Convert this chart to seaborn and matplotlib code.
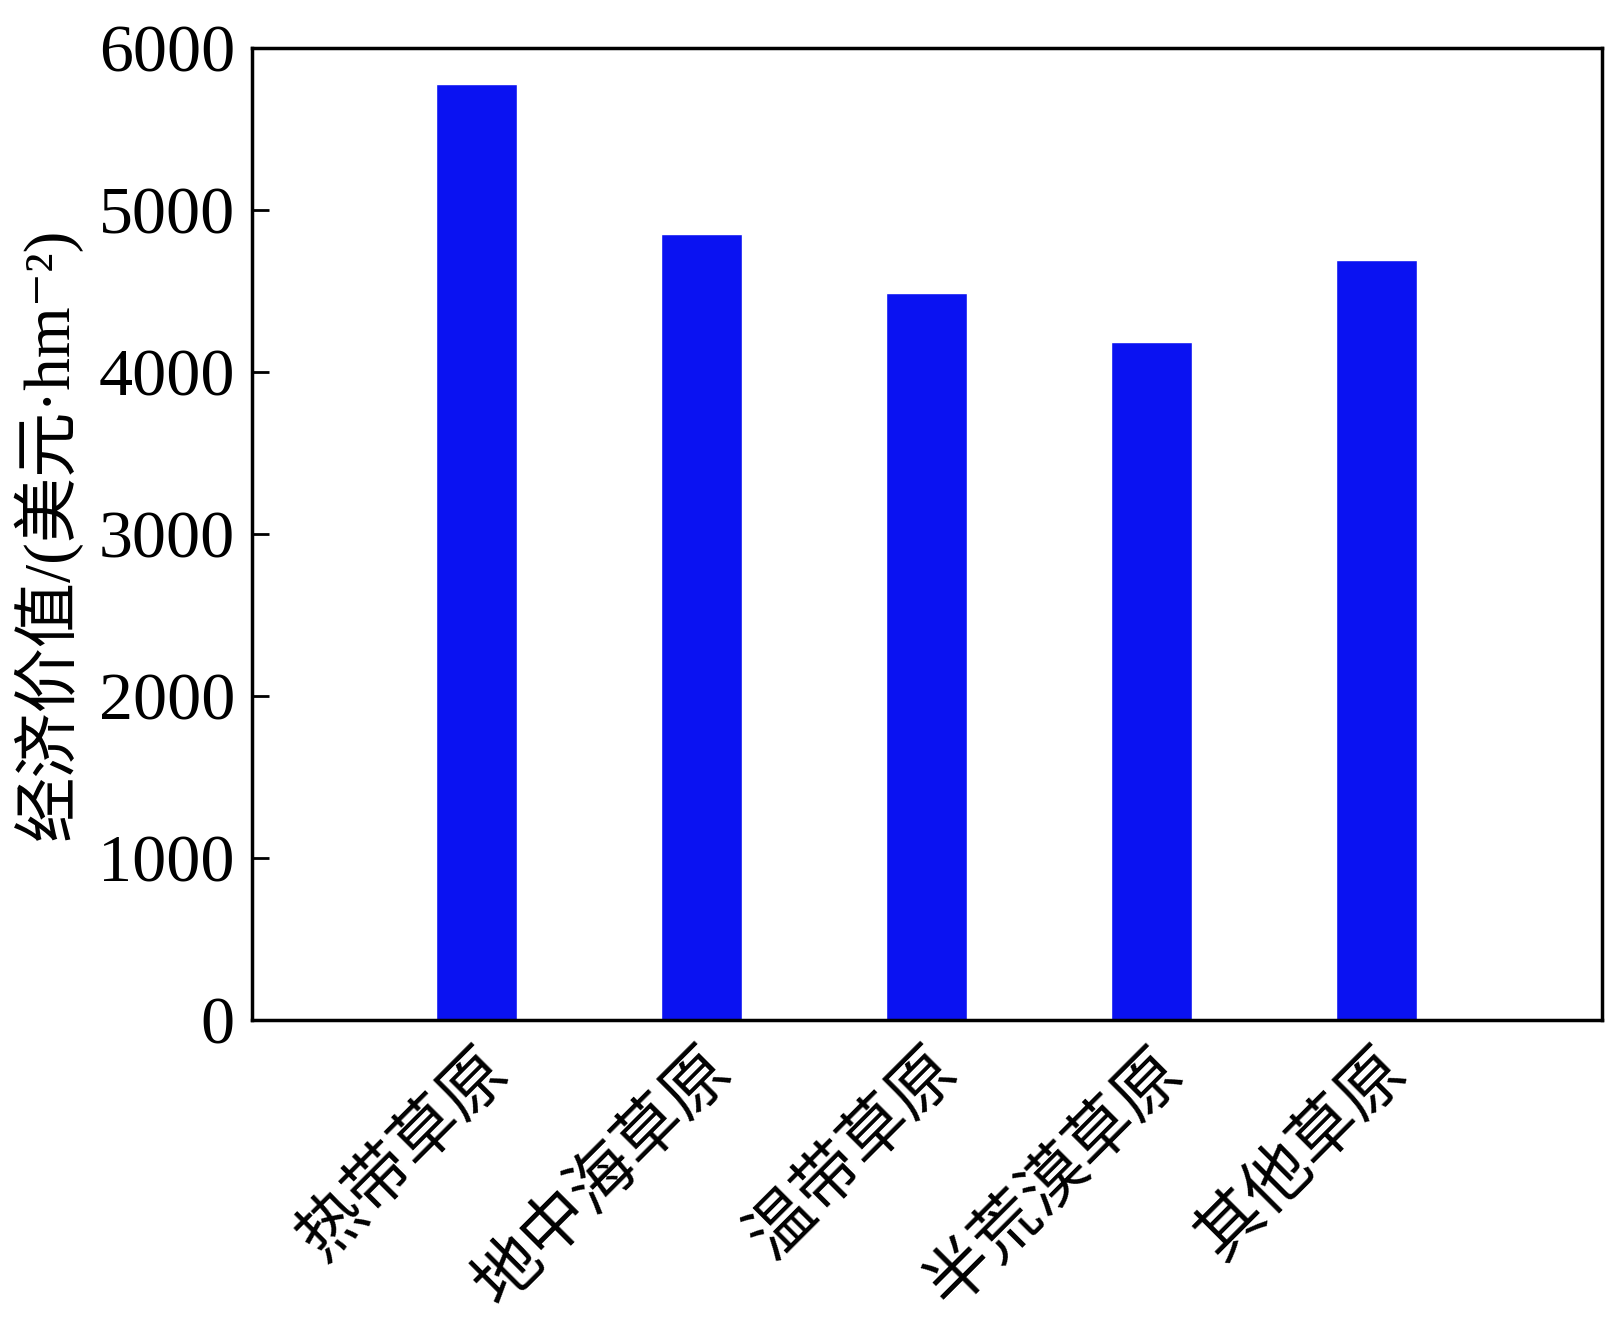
import matplotlib
matplotlib.use('Agg')
import matplotlib.pyplot as plt
import seaborn as sns
import pandas as pd

categories = ['热带草原', '地中海草原', '温带草原', '半荒漠草原', '其他草原']
values = [5780, 4850, 4490, 4185, 4690]
yticks = [0, 1000, 2000, 3000, 4000, 5000, 6000]

sns.set_style('white')
plt.rcParams['font.family'] = ['Liberation Serif', 'Noto Sans CJK SC', 'DejaVu Serif']
plt.rcParams['text.color'] = 'black'
plt.rcParams['xtick.color'] = 'black'
plt.rcParams['ytick.color'] = 'black'
plt.rcParams['axes.labelcolor'] = 'black'

df = pd.DataFrame({'type': categories, 'value': values})

fig = plt.figure(figsize=(16.13, 13.32), dpi=100)
ax = fig.add_axes([0.156, 0.234, 0.837, 0.730])
sns.barplot(data=df, x='type', y='value', order=categories, color='#0a12f2',
            saturation=1, width=0.36, ax=ax)

ax.set_xlim(-1, 5)
ax.set_ylim(0, 6000)
ax.set_yticks(yticks)
ax.set_yticklabels([str(t) for t in yticks], fontsize=49)
ax.set_xticks(range(len(categories)))
ax.set_xticklabels(categories, fontsize=48, rotation=45, ha='right', va='top',
                   rotation_mode='anchor')
ax.tick_params(axis='x', length=0, pad=14)
ax.tick_params(axis='y', direction='in', length=12, width=2, pad=12, left=True)
for s in ax.spines.values():
    s.set_linewidth(2.5)
    s.set_color('black')
ax.set_xlabel('')
ax.set_ylabel('经济价值/(美元·hm⁻²)', fontsize=47, labelpad=12)

fig.savefig('out.png', dpi=100)
